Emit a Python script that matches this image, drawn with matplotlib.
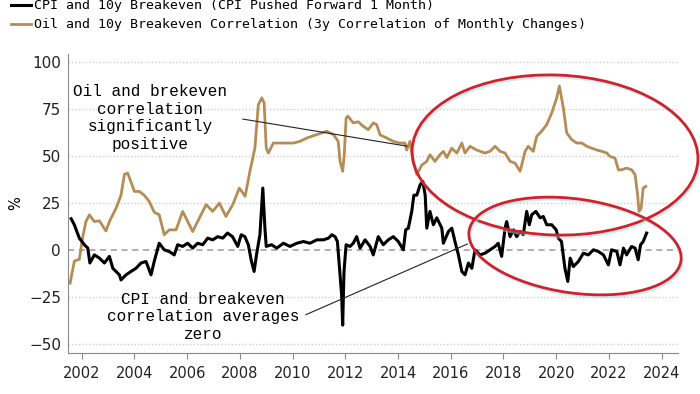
import matplotlib
matplotlib.use('Agg')
import matplotlib.pyplot as plt
import matplotlib.patheffects as pe
from matplotlib.patches import Ellipse
from matplotlib.transforms import IdentityTransform

plt.rc('font', family='DejaVu Sans', size=10.5)

# oil / 10y breakeven correlation (3y of monthly changes), %
oil_x = [2001.56, 2001.72, 2001.91, 2002.04, 2002.16, 2002.29, 2002.48, 2002.67, 2002.92, 2003.05,
         2003.3, 2003.49, 2003.62, 2003.74, 2003.87, 2004.0, 2004.19, 2004.37, 2004.56, 2004.75,
         2004.94, 2005.13, 2005.32, 2005.58, 2005.83, 2006.02, 2006.21, 2006.46, 2006.72, 2006.97,
         2007.22, 2007.47, 2007.73, 2007.98, 2008.2, 2008.38, 2008.57, 2008.7, 2008.83, 2008.92,
         2009.0, 2009.08, 2009.27, 2009.65, 2010.03, 2010.28, 2010.54, 2010.92, 2011.29, 2011.55,
         2011.73, 2011.8, 2011.9, 2011.96, 2012.03, 2012.1, 2012.3, 2012.49, 2012.68, 2012.87,
         2013.06, 2013.19, 2013.32, 2013.57, 2013.82, 2014.07, 2014.26, 2014.33, 2014.45, 2014.58,
         2014.71, 2014.9, 2015.09, 2015.21, 2015.4, 2015.59, 2015.72, 2015.85, 2016.04, 2016.23,
         2016.42, 2016.54, 2016.73, 2016.98, 2017.3, 2017.49, 2017.68, 2017.87, 2018.06, 2018.25,
         2018.44, 2018.63, 2018.82, 2018.94, 2019.13, 2019.26, 2019.45, 2019.64, 2019.83, 2020.02,
         2020.12, 2020.27, 2020.4, 2020.59, 2020.78, 2020.97, 2021.16, 2021.35, 2021.54, 2021.73,
         2021.92, 2022.04, 2022.23, 2022.36, 2022.48, 2022.67, 2022.86, 2022.99, 2023.09, 2023.14,
         2023.22, 2023.3, 2023.4]
oil_corr = [-17.7, -6, -5, 7, 15, 18.6, 15, 15.4, 10, 15,
            22, 29, 40, 40.8, 36, 31, 31, 29, 25.7, 20,
            18.6, 8, 10.6, 10.6, 20.4, 15, 9.7, 16.8, 24, 20.4,
            24.8, 17.7, 24, 32.8, 28.4, 41.7, 54, 77, 80.7, 78,
            54, 51.4, 56.7, 56.7, 56.7, 57.6, 59.4, 61.2, 63, 61.2,
            57.6, 47, 41.7, 50.5, 70, 71, 67.4, 68, 65.6, 63.8,
            67.4, 66.5, 61, 59.4, 57.6, 56.7, 56.7, 53, 57.6, 47,
            40, 45, 47, 50.5, 47, 50.5, 52.3, 49, 54, 51.4,
            56.7, 51.4, 55, 53, 51.4, 52.3, 55, 52.3, 51.4, 47,
            46, 41.7, 52.3, 55, 52.3, 60.3, 63, 66.5, 72.7, 80.7,
            87, 75.4, 62, 58.5, 56.7, 56.7, 55, 54, 53, 52.3,
            51.4, 49.6, 48.7, 42.5, 42.5, 43.4, 42.5, 40, 29, 20.4,
            22, 32.8, 33.7]

# CPI / 10y breakeven correlation (CPI pushed forward 1 month), %
cpi_x = [2001.6, 2001.72, 2001.91, 2002.1, 2002.23, 2002.31, 2002.48, 2002.67, 2002.86, 2003.05,
         2003.18, 2003.43, 2003.49, 2003.68, 2003.87, 2004.06, 2004.25, 2004.44, 2004.63, 2004.75,
         2004.94, 2005.13, 2005.32, 2005.51, 2005.64, 2005.83, 2006.02, 2006.21, 2006.4, 2006.59,
         2006.78, 2006.97, 2007.16, 2007.35, 2007.53, 2007.72, 2007.92, 2008.05, 2008.19, 2008.32,
         2008.44, 2008.54, 2008.63, 2008.76, 2008.87, 2008.95, 2009.0, 2009.2, 2009.4, 2009.65,
         2009.9, 2010.16, 2010.41, 2010.66, 2010.92, 2011.17, 2011.36, 2011.49, 2011.61, 2011.7,
         2011.76, 2011.86, 2011.9, 2011.95, 2012.03, 2012.18, 2012.3, 2012.43, 2012.56, 2012.75,
         2012.94, 2013.06, 2013.25, 2013.44, 2013.63, 2013.82, 2014.01, 2014.2, 2014.29, 2014.39,
         2014.52, 2014.6, 2014.71, 2014.84, 2014.94, 2015.03, 2015.09, 2015.21, 2015.34, 2015.47,
         2015.66, 2015.72, 2015.91, 2016.04, 2016.16, 2016.29, 2016.42, 2016.54, 2016.67, 2016.8,
         2016.92, 2017.11, 2017.3, 2017.49, 2017.68, 2017.8, 2017.93, 2018.06, 2018.12, 2018.25,
         2018.38, 2018.5, 2018.63, 2018.75, 2018.88, 2018.98, 2019.07, 2019.23, 2019.39, 2019.51,
         2019.64, 2019.83, 2020.0, 2020.08, 2020.2, 2020.33, 2020.44, 2020.53, 2020.65, 2020.84,
         2021.03, 2021.22, 2021.41, 2021.6, 2021.79, 2021.98, 2022.1, 2022.3, 2022.42, 2022.55,
         2022.67, 2022.86, 2022.99, 2023.11, 2023.2, 2023.3, 2023.43]
cpi_corr = [16.5, 13.3, 6.2, 2.7, 0.9, -7, -2.7, -4.4, -7, -3.5,
            -9.8, -13.3, -16, -13.3, -11.5, -9.8, -7, -6.2, -13.3, -6.2,
            3.5, 0, -0.9, -2.7, 2.7, 1.8, 3.5, 0.9, 3.5, 2.7,
            6.2, 5.3, 7, 6.2, 8.9, 7, 1.8, 8, 7, 2.7,
            -6.2, -11.5, -2.7, 8, 32.8, 11.5, 1.8, 2.7, 0.9, 3.5,
            1.8, 3.5, 4.4, 3.5, 5.3, 5.3, 6.2, 8, 7, 4.4,
            -6, -24, -40, -11.5, 2.7, 1.8, 3.5, 7, 0.9, 5.3,
            1.8, -2.7, 7, 2.7, 5.3, 7, 4.4, 0, 10.6, 11.5,
            20.4, 29, 29, 34.6, 36.3, 29, 11.5, 20.4, 13.3, 17,
            11.5, 3.5, 9.7, 11.5, 4.4, -2.7, -11.5, -13.3, -7, -9.8,
            0, -2.7, -1.8, 0, 1.8, 3.5, -3.5, 11.5, 15, 7,
            10.6, 7, 9.7, 8, 20.4, 13.3, 18.6, 20.4, 17, 17.7,
            13.3, 13.3, 10.6, 6.2, 4.4, -9.8, -16.8, -4.4, -8.9, -6.2,
            -1.8, -2.7, 0, -0.9, -2.7, -8, 0, -0.9, -8, 0.9,
            -2.7, 1.8, 0.9, -5.3, 2.7, 4.4, 8.9]

labels = ['CPI and 10y Breakeven (CPI Pushed Forward 1 Month)',
          'Oil and 10y Breakeven Correlation (3y Correlation of Monthly Changes)']
x_ticks = list(range(2002, 2025, 2))
y_ticks = [-50, -25, 0, 25, 50, 75, 100]

colors = ['#000000', '#b68c56']
red = '#d0222c'

fig = plt.figure(figsize=(7, 3.94), dpi=100)
ax = fig.add_axes([68/700, 1 - 353/394, 610/700, 299/394])

for v in y_ticks:
    if v == 0:
        ax.axhline(v, color='#9a9a9a', lw=1.1, ls=(0, (4, 3)), zorder=1)
    else:
        ax.axhline(v, color='#cfcfcf', lw=1.0, ls=(0, (1, 1.5)), zorder=1)

l2, = ax.plot(oil_x, oil_corr, color=colors[1], lw=2.0, zorder=3)
l1, = ax.plot(cpi_x, cpi_corr, color=colors[0], lw=2.2, zorder=4)

ax.set_xlim(2001.48, 2024.62)
ax.set_ylim(-54.8, 104)
ax.set_xticks(x_ticks)
ax.set_yticks(y_ticks)
ax.tick_params(axis='y', length=0, pad=5, labelsize=11, colors='#222222')
ax.tick_params(axis='x', length=4, color='#888888', pad=5, labelsize=10.5, labelcolor='#222222')
for s in ['top', 'right']:
    ax.spines[s].set_visible(False)
for s in ['left', 'bottom']:
    ax.spines[s].set_color('#8a8a8a')
ax.set_ylabel('%', fontsize=10.5, labelpad=4)

# annotations
mono = 'Liberation Mono'
ax.text(2004.6, 70, 'Oil and brekeven\ncorrelation\nsignificantly\npositive',
        ha='center', va='center', family=mono, fontsize=11.5, zorder=6)
ax.annotate('', xy=(2014.45, 54.8), xytext=(2008.0, 69.7),
            arrowprops=dict(arrowstyle='-', lw=0.8, color='#222222'), zorder=6)
ax.text(2006.6, -35.6, 'CPI and breakeven\ncorrelation averages\nzero',
        ha='center', va='center', family=mono, fontsize=11.5, zorder=6)
ax.annotate('', xy=(2016.73, 3.7), xytext=(2010.4, -35.1),
            arrowprops=dict(arrowstyle='-', lw=0.8, color='#222222'), zorder=6)

# red ellipses drawn in pixel space
shadow = [pe.SimpleLineShadow(offset=(1, -1.5), shadow_color='#9adfe6', alpha=0.5), pe.Normal()]
for cx, cy, w, h, ang in [(555, 155, 286, 160, -2), (575, 246, 214, 94, -8)]:
    e = Ellipse((cx, 394 - cy), w, h, angle=ang, transform=IdentityTransform(),
                fill=False, edgecolor=red, lw=2.0, zorder=10)
    e.set_path_effects(shadow)
    fig.add_artist(e)

fig.legend([l1, l2], labels, loc='upper left', bbox_to_anchor=(0.008, 1.015),
           frameon=False, handlelength=1.5, handletextpad=0.25, labelspacing=0.45,
           prop={'family': 'DejaVu Sans Mono', 'size': 9.5}, borderaxespad=0)

fig.savefig('out.png', dpi=100)
